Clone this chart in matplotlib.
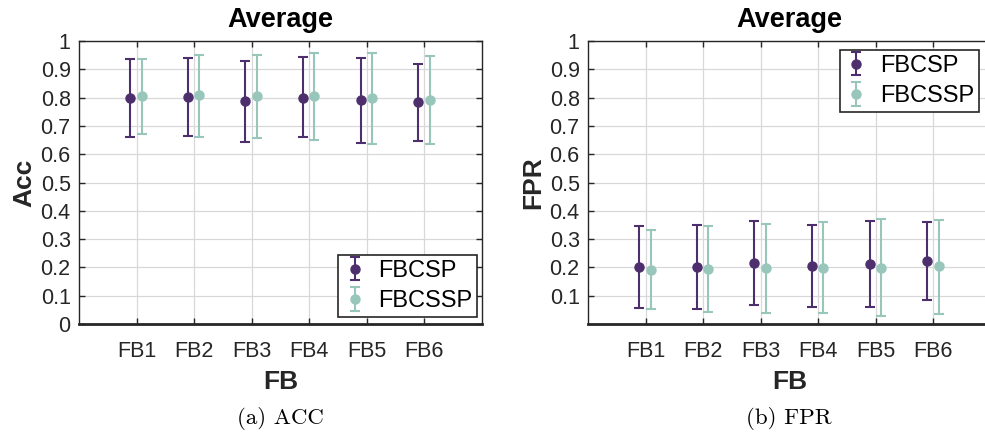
import numpy as np
import matplotlib.pyplot as plt

bands = ['FB1', 'FB2', 'FB3', 'FB4', 'FB5', 'FB6']

# Acc: mean, upper end, lower end of error bar
acc_csp = [0.800, 0.801, 0.789, 0.800, 0.790, 0.785]
acc_csp_hi = [0.935, 0.940, 0.931, 0.944, 0.940, 0.918]
acc_csp_lo = [0.661, 0.663, 0.642, 0.661, 0.640, 0.647]
acc_cssp = [0.807, 0.808, 0.805, 0.805, 0.799, 0.793]
acc_cssp_hi = [0.937, 0.952, 0.952, 0.958, 0.958, 0.948]
acc_cssp_lo = [0.672, 0.661, 0.657, 0.651, 0.635, 0.636]

# FPR
fpr_csp = [0.200, 0.200, 0.214, 0.204, 0.211, 0.224]
fpr_csp_hi = [0.346, 0.349, 0.365, 0.349, 0.365, 0.360]
fpr_csp_lo = [0.057, 0.053, 0.066, 0.059, 0.059, 0.084]
fpr_cssp = [0.190, 0.194, 0.197, 0.198, 0.198, 0.204]
fpr_cssp_hi = [0.332, 0.346, 0.352, 0.360, 0.370, 0.369]
fpr_cssp_lo = [0.053, 0.044, 0.040, 0.040, 0.029, 0.037]

purple = '#4e2f6e'
green = '#98c6bb'
txt = '#262626'

plt.rcParams['font.family'] = ['Liberation Sans', 'DejaVu Sans']

fig = plt.figure(figsize=(9.85, 4.4), dpi=100)
ax1 = fig.add_axes([79/985, 1-324/440, 403/985, 283/440])
ax2 = fig.add_axes([588/985, 1-324/440, 403/985, 283/440])

x = np.arange(1, 7)


def draw(ax, m1, hi1, lo1, m2, hi2, lo2):
    m1, hi1, lo1 = map(np.array, (m1, hi1, lo1))
    m2, hi2, lo2 = map(np.array, (m2, hi2, lo2))
    ax.errorbar(x - 0.11, m1, yerr=[m1 - lo1, hi1 - m1], fmt='o', color=purple,
                ms=6.5, lw=1.5, capsize=3.5, capthick=1.5, label='FBCSP', zorder=3)
    ax.errorbar(x + 0.09, m2, yerr=[m2 - lo2, hi2 - m2], fmt='o', color=green,
                ms=6.5, lw=1.5, capsize=3.5, capthick=1.5, label='FBCSSP', zorder=3)
    ax.set_xlim(0, 7)
    ax.set_ylim(0, 1)
    ax.set_xticks(x)
    ax.set_xticklabels(bands)
    ax.grid(True, color='#d8d8d8', lw=0.9)
    ax.set_axisbelow(True)
    ax.tick_params(direction='in', top=True, right=True, length=4, width=1,
                   labelsize=15.5, colors=txt)
    ax.tick_params(axis='x', pad=12)
    ax.tick_params(axis='y', pad=6)
    for s in ax.spines.values():
        s.set_color(txt)
        s.set_linewidth(1)
    ax.spines['bottom'].set_linewidth(2)
    ax.set_title('Average', fontsize=19.5, fontweight='bold', pad=10)
    ax.set_xlabel('FB', fontsize=19, fontweight='bold', color=txt, labelpad=6)


draw(ax1, acc_csp, acc_csp_hi, acc_csp_lo, acc_cssp, acc_cssp_hi, acc_cssp_lo)
ax1.set_yticks(np.round(np.arange(0, 1.01, 0.1), 1))
ax1.set_yticklabels(['0'] + ['%.1f' % v for v in np.arange(0.1, 0.95, 0.1)] + ['1'])
ax1.set_ylabel('Acc', fontsize=19, fontweight='bold', color=txt, labelpad=3)
leg1 = ax1.legend(loc='lower right', bbox_to_anchor=(0.988, 0.025), fontsize=17,
                  fancybox=False, framealpha=1, edgecolor=txt, handlelength=1.0,
                  borderpad=0.2, labelspacing=0.35, handletextpad=0.5, borderaxespad=0)
leg1.get_frame().set_linewidth(1.2)

draw(ax2, fpr_csp, fpr_csp_hi, fpr_csp_lo, fpr_cssp, fpr_cssp_hi, fpr_cssp_lo)
ax2.set_yticks(np.round(np.arange(0.1, 1.01, 0.1), 1))
ax2.set_yticklabels(['%.1f' % v for v in np.arange(0.1, 0.95, 0.1)] + ['1'])
ax2.set_ylabel('FPR', fontsize=19, fontweight='bold', color=txt, labelpad=3)
leg2 = ax2.legend(loc='upper right', bbox_to_anchor=(0.97, 0.968), fontsize=17,
                  fancybox=False, framealpha=1, edgecolor=txt, handlelength=1.0,
                  borderpad=0.2, labelspacing=0.35, handletextpad=0.5, borderaxespad=0)
leg2.get_frame().set_linewidth(1.2)

fig.text(280/985, 1-418/440, '(a) ACC', fontsize=16.5, family='cmr10', ha='center', va='center')
fig.text(789/985, 1-418/440, '(b) FPR', fontsize=16.5, family='cmr10', ha='center', va='center')

fig.savefig('out.png', dpi=100)
